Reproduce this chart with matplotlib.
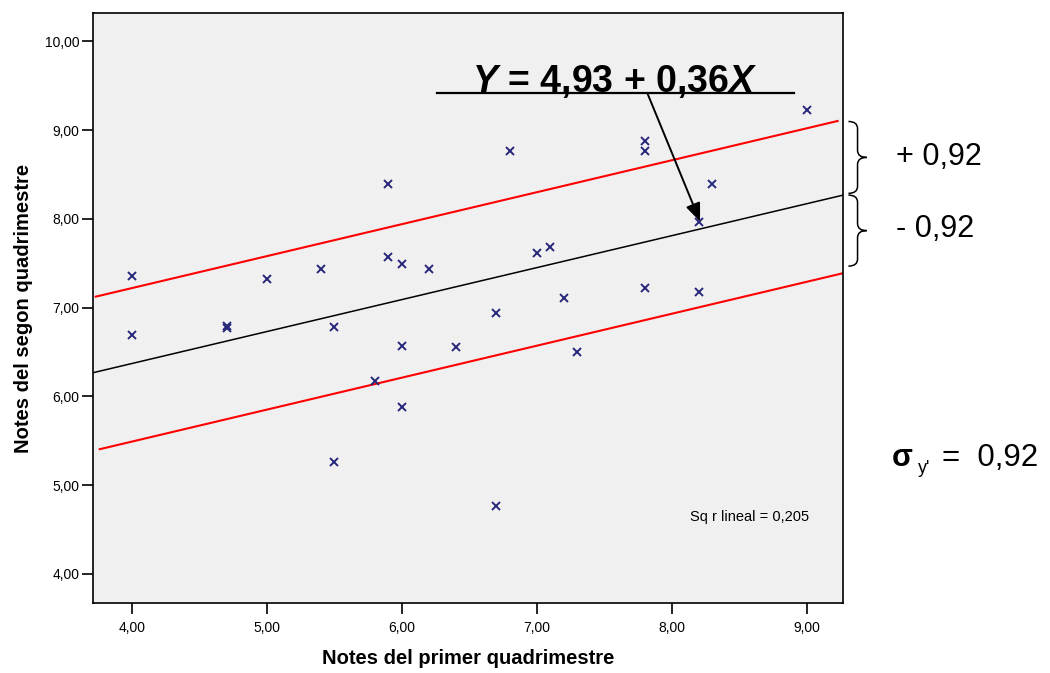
import numpy as np
import matplotlib
matplotlib.use('Agg')
import matplotlib.pyplot as plt
from matplotlib.path import Path
from matplotlib.patches import PathPatch

plt.rcParams['font.family'] = ['Liberation Sans', 'DejaVu Sans']
plt.rcParams['mathtext.fontset'] = 'custom'
plt.rcParams['mathtext.it'] = 'Liberation Sans:italic:bold'
plt.rcParams['mathtext.rm'] = 'Liberation Sans:bold'

# first term vs second term marks
notes_q1 = [4.0, 4.0, 4.7, 4.7, 5.0, 5.4, 5.5, 5.5, 5.8, 5.9, 5.9, 6.0, 6.0, 6.0, 6.2,
            6.4, 6.7, 6.7, 6.8, 7.0, 7.1, 7.2, 7.3, 7.8, 7.8, 7.8, 8.2, 8.2, 8.3, 9.0]
notes_q2 = [7.36, 6.69, 6.79, 6.77, 7.32, 7.44, 6.78, 5.26, 6.17, 8.39, 7.57, 7.49, 6.57, 5.88, 7.43,
            6.55, 6.94, 4.76, 8.77, 7.61, 7.68, 7.11, 6.50, 8.88, 8.77, 7.22, 7.96, 7.18, 8.39, 9.23]

# regression line Y = a + bX and the hand drawn +/- bands
intercept = 4.93
slope = 0.36
band_offsets = [0.85, -0.88]
fit_x = [3.71, 9.27]
band_x = [[3.73, 9.23], [3.76, 9.27]]

xticks = [4, 5, 6, 7, 8, 9]
yticks = [4, 5, 6, 7, 8, 9, 10]

fig = plt.figure(figsize=(10.5, 6.73), dpi=100)
ax = fig.add_axes([0.0886, 0.104, 0.7143, 0.8767])
ax.set_facecolor('#f0f0f0')

ax.plot(notes_q1, notes_q2, 'x', color='#27277a', markersize=5.5, mew=1.4, zorder=3)

fx = np.array(fit_x)
ax.plot(fx, intercept + slope*fx, color='black', lw=1.1)
for off, bx in zip(band_offsets, band_x):
    bx = np.array(bx)
    ax.plot(bx, intercept + off + slope*bx, color='#ff0000', lw=1.5)

ax.set_xlim(3.71, 9.27)
ax.set_ylim(3.67, 10.32)
ax.set_xticks(xticks)
ax.set_yticks(yticks)
ax.set_xticklabels([('%.2f' % v).replace('.', ',') for v in xticks])
ax.set_yticklabels([('%.2f' % v).replace('.', ',') for v in yticks])
ax.tick_params(axis='both', labelsize=10, length=8, width=1.2, direction='out')
ax.tick_params(axis='x', pad=5)
ax.tick_params(axis='y', pad=2)
for s in ax.spines.values():
    s.set_linewidth(1.2)

ax.set_xlabel('Notes del primer quadrimestre', fontsize=14.5, fontweight='bold', labelpad=10)
ax.set_ylabel('Notes del segon quadrimestre', fontsize=14.5, fontweight='bold', labelpad=8)

ax.text(9.015, 4.64, 'Sq r lineal = 0,205', fontsize=10.5, ha='right', va='center')

# equation, underline and arrow
ax.text(7.58, 9.43, r'$Y$ = 4,93 + 0,36$X$', fontsize=27, fontweight='bold',
        ha='center', va='baseline')
ax.plot([6.263, 8.904], [9.414, 9.414], color='black', lw=1.6)
ax.annotate('', xy=(8.21, 7.97), xytext=(7.82, 9.414),
            arrowprops=dict(arrowstyle='-|>,head_length=1.1,head_width=0.45',
                            color='black', lw=1.4, shrinkA=0, shrinkB=0))

# curly braces to the right of the axes
def brace(x0, ylo, yhi, w=0.135, r=0.08):
    xm = x0 + w/2
    xt = x0 + w
    ym = (ylo + yhi)/2
    verts = [(x0, yhi), (xm, yhi), (xm, yhi - r), (xm, ym + r), (xm, ym), (xt, ym),
             (xm, ym), (xm, ym - r), (xm, ylo + r), (xm, ylo), (x0, ylo)]
    codes = [Path.MOVETO, Path.CURVE3, Path.CURVE3, Path.LINETO, Path.CURVE3, Path.CURVE3,
             Path.CURVE3, Path.CURVE3, Path.LINETO, Path.CURVE3, Path.CURVE3]
    ax.add_patch(PathPatch(Path(verts, codes), fill=False, lw=1.1, color='black',
                           clip_on=False))

y_end = intercept + slope*fit_x[1]
brace(9.31, y_end + 0.02, y_end + 0.83)
brace(9.31, y_end - 0.80, y_end)

fig.text(0.853, 0.767, '+ 0,92', fontsize=22, va='center')
fig.text(0.853, 0.659, '- 0,92', fontsize=22, va='center')

fig.text(0.849, 0.308, 'σ', fontsize=22, fontweight='bold', va='baseline')
fig.text(0.874, 0.297, "y'", fontsize=13, va='baseline')
fig.text(0.897, 0.308, '=  0,92', fontsize=22.5, va='baseline')

plt.savefig('out.png', dpi=100)
